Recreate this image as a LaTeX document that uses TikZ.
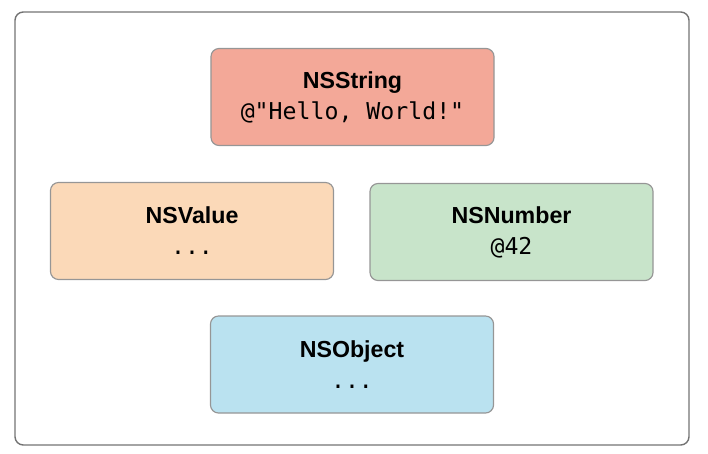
\documentclass[tikz,border=0pt]{standalone}
\usepackage{fontspec}
\setmainfont{Liberation Sans}
\setmonofont{DejaVu Sans Mono}
\definecolor{strred}{RGB}{243,168,152}
\definecolor{valpeach}{RGB}{251,217,184}
\definecolor{numgreen}{RGB}{200,228,202}
\definecolor{objblue}{RGB}{186,226,240}
\definecolor{edgegray}{RGB}{150,150,150}
\usetikzlibrary{positioning}

\begin{document}
\begin{tikzpicture}[x=0.03cm,y=-0.03cm,
        font=\fontsize{19.8}{26.4}\selectfont,
        frame/.style={draw=black!55,line width=1.2pt,rounded corners=0.25cm,
                      minimum width=20.22cm,minimum height=12.99cm},
        box/.style={draw=edgegray,line width=1pt,rounded corners=0.24cm,
                    minimum width=8.49cm,minimum height=2.91cm,align=center}]
        \useasboundingbox (0,0) rectangle (708,454);
        \node[frame] (f) at (352,228.5) {};
        \node[box,fill=strred] (s) at (352.5,97) {\textbf{NSString}\\ \ttfamily @"Hello, World!"};
        \node[box,fill=valpeach] (v) at (192,231) {\textbf{NSValue}\\ \ttfamily ...};
        \node[box,fill=numgreen] (n) at (511.5,232) {\textbf{NSNumber}\\ \ttfamily @42};
        \node[box,fill=objblue] (o) at (352,364.5) {\textbf{NSObject}\\ \ttfamily ...};
      \end{tikzpicture}
\end{document}
